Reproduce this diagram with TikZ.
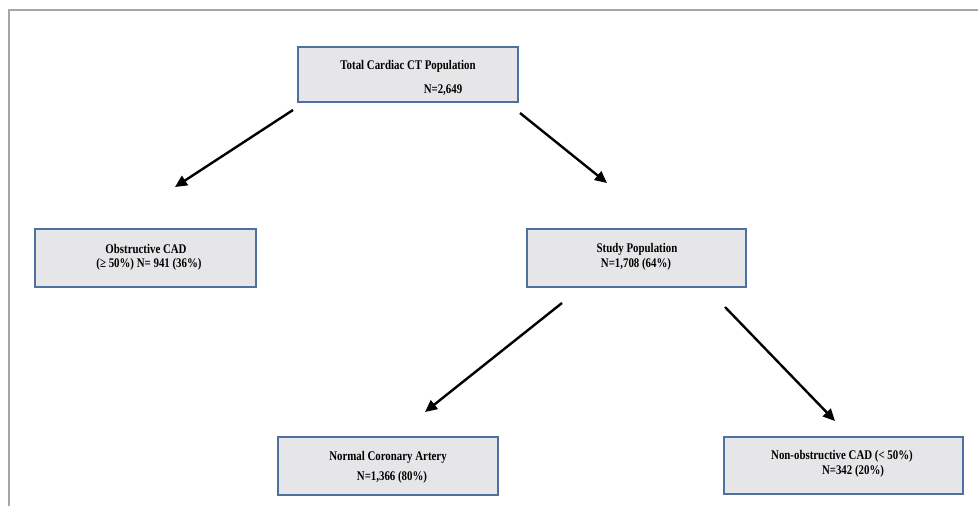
\documentclass[tikz,border=0pt]{standalone}
\usepackage{fontspec}
\setmainfont{Liberation Serif}
\usetikzlibrary{arrows.meta}
\definecolor{boxedge}{HTML}{5070A0}
\definecolor{boxfill}{HTML}{E6E6E8}
\definecolor{frame}{HTML}{A6A6A6}
\newcommand{\tallbox}[1]{\scalebox{0.97}[1.18]{#1}}
\tikzset{
  box/.style={draw=boxedge, line width=2.3pt, fill=boxfill, inner sep=0pt},
  txt/.style={inner sep=0pt, font=\fontsize{11.2}{13}\selectfont\bfseries},
  arr/.style={line width=2.4pt, -{Triangle[length=12pt,width=11pt]}}
}
\begin{document}
\begin{tikzpicture}[x=1pt,y=-1pt]
\useasboundingbox (0,0) rectangle (978,506);
\fill[white] (0,0) rectangle (978,506);
% outer frame
\draw[frame, line width=2pt] (9,506) -- (9,10) -- (978,10);
% boxes
\node[box, minimum width=220pt, minimum height=55pt] (top) at (408,74.5) {};
\node[box, minimum width=221pt, minimum height=58pt] (obs) at (145.5,258) {};
\node[box, minimum width=219pt, minimum height=58pt] (study) at (636.5,258) {};
\node[box, minimum width=220pt, minimum height=58pt] (normal) at (388,466) {};
\node[box, minimum width=239pt, minimum height=57pt] (nonobs) at (843.5,465.5) {};
% texts
\node[txt] (topa) at (408,66) {\tallbox{Total Cardiac CT Population}};
\node[txt] (topb) at (443,90) {\tallbox{N=2,649}};
\node[txt] (obsa) at (146,249) {\tallbox{Obstructive CAD}};
\node[txt] (obsb) at (149,264) {\tallbox{(≥ 50\%) N= 941 (36\%)}};
\node[txt] (studya) at (637,249) {\tallbox{Study Population}};
\node[txt] (studyb) at (636,264) {\tallbox{N=1,708 (64\%)}};
\node[txt] (normala) at (388,457) {\tallbox{Normal Coronary Artery}};
\node[txt] (normalb) at (392,477) {\tallbox{N=1,366 (80\%)}};
\node[txt] (nonobsa) at (842,456) {\tallbox{Non-obstructive CAD (< 50\%)}};
\node[txt] (nonobsb) at (853,471) {\tallbox{N=342 (20\%)}};
% arrow ends
\coordinate (a1s) at (293,110);
\coordinate (a1e) at (175,187);
\coordinate (a2s) at (520,113);
\coordinate (a2e) at (607,183);
\coordinate (a3s) at (562,303);
\coordinate (a3e) at (425,412);
\coordinate (a4s) at (725,307);
\coordinate (a4e) at (835,421);
\draw[arr] (a1s) -- (a1e);
\draw[arr] (a2s) -- (a2e);
\draw[arr] (a3s) -- (a3e);
\draw[arr] (a4s) -- (a4e);
\end{tikzpicture}
\end{document}
